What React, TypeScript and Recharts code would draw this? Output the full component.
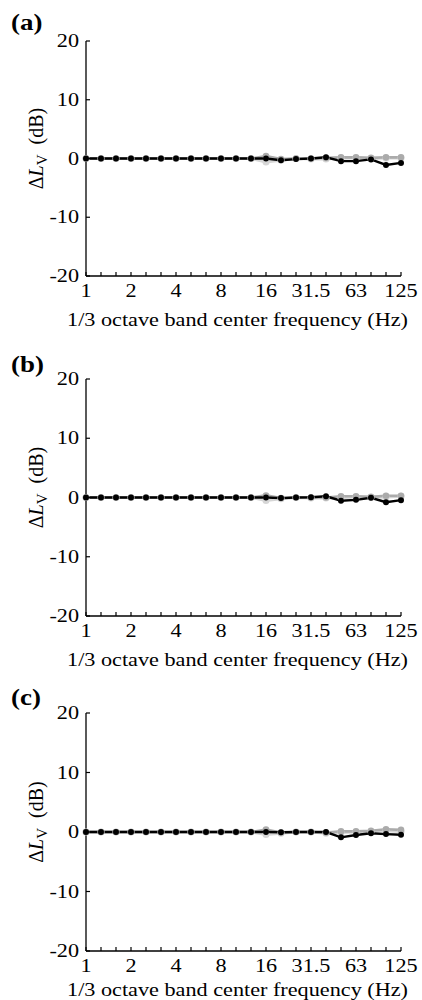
import { LineChart, Line, XAxis, YAxis } from "recharts";

const FREQS = ["1", "1.25", "1.6", "2", "2.5", "3.15", "4", "5", "6.3", "8", "10", "12.5", "16", "20", "25", "31.5", "40", "50", "63", "80", "100", "125"];
const FREQ_TICKS = ["1", "2", "4", "8", "16", "31.5", "63", "125"];
const Y_TICKS = [20, 10, 0, -10, -20];

// (a)
const A_BLACK = [0, 0, 0, 0, 0, 0, 0, 0, 0, 0, 0, 0, 0, -0.3, -0.1, 0, 0.2, -0.45, -0.45, -0.15, -1.1, -0.75];
const A_GRAY = [0, 0, 0, 0, 0, 0, 0, 0, 0, 0, 0, 0, 0.4, -0.1, 0, 0, 0.1, 0.2, 0.2, 0.1, 0.2, 0.2];
const A_LIGHT = [0, 0, 0, 0, 0, 0, 0, 0, 0, 0, 0, 0, -0.6, -0.3, 0, -0.1, -0.1, 0.1, 0.1, 0, 0.1, 0.1];
// (b)
const B_BLACK = [0, 0, 0, 0, 0, 0, 0, 0, 0, 0, 0, 0, 0, -0.1, 0, 0.05, 0.2, -0.55, -0.4, -0.05, -0.8, -0.45];
const B_GRAY = [0, 0, 0, 0, 0, 0, 0, 0, 0, 0, 0, 0, 0.35, -0.1, 0, 0, 0, 0.2, 0.2, 0.1, 0.3, 0.3];
const B_LIGHT = [0, 0, 0, 0, 0, 0, 0, 0, 0, 0, 0, 0, -0.5, -0.2, 0, -0.1, -0.1, 0, 0.1, 0, 0.1, 0.2];
// (c)
const C_BLACK = [0, 0, 0, 0, 0, 0, 0, 0, 0, 0, 0, 0, 0, -0.05, 0, 0, 0, -0.9, -0.5, -0.2, -0.35, -0.45];
const C_GRAY = [0, 0, 0, 0, 0, 0, 0, 0, 0, 0, 0, 0, 0.4, -0.1, 0, 0, -0.1, 0.1, 0.1, 0.2, 0.45, 0.35];
const C_LIGHT = [0, 0, 0, 0, 0, 0, 0, 0, 0, 0, 0, 0, -0.4, -0.2, 0, 0, -0.2, -0.1, 0, 0.1, 0.2, 0.1];

const FONT = "'Liberation Serif', 'Times New Roman', serif";
const FS = 19;
const SX = 1.17; // source text is a bit wider than it is tall
const TICK_LEN = 4;

const makeRows = (black: number[], gray: number[], light: number[]) =>
  FREQS.map((f, i) => ({ f, black: black[i], gray: gray[i], light: light[i] }));

const WideText = ({ x, y, anchor, children }: any) => (
  <g transform={`translate(${x},${y}) scale(${SX},1)`}>
    <text x={0} y={0} textAnchor={anchor} fontFamily={FONT} fontSize={FS} fill="#000">
      {children}
    </text>
  </g>
);

const BottomTick = (props: any) => {
  const { x, y, payload } = props;
  const show = FREQ_TICKS.includes(payload.value);
  return (
    <g>
      <line x1={x} y1={y} x2={x} y2={y - TICK_LEN} stroke="#000" strokeWidth={1.2} />
      {show && (
        <WideText x={x} y={y + 21} anchor="middle">
          {payload.value}
        </WideText>
      )}
    </g>
  );
};

const TopTick = (props: any) => {
  const { x, y } = props;
  return <line x1={x} y1={y} x2={x} y2={y + TICK_LEN} stroke="#000" strokeWidth={1.2} />;
};

const LeftTick = (props: any) => {
  const { x, y, payload } = props;
  return (
    <g>
      <line x1={x} y1={y} x2={x + TICK_LEN} y2={y} stroke="#000" strokeWidth={1.2} />
      <WideText x={x - 7} y={y + 6} anchor="end">
        {payload.value}
      </WideText>
    </g>
  );
};

const RightTick = (props: any) => {
  const { x, y } = props;
  return <line x1={x} y1={y} x2={x - TICK_LEN} y2={y} stroke="#000" strokeWidth={1.2} />;
};

const XTitle = ({ viewBox, gap }: any) => (
  <WideText x={viewBox.x + viewBox.width / 2 - 6} y={viewBox.y + gap} anchor="middle">
    1/3 octave band center frequency (Hz)
  </WideText>
);

const YTitle = (props: any) => {
  const vb = props.viewBox;
  const cx = 43;
  const cy = vb.y + vb.height / 2 - 10;
  return (
    <text
      x={cx}
      y={cy}
      transform={`rotate(-90 ${cx} ${cy})`}
      textAnchor="middle"
      fontFamily={FONT}
      fontSize={20}
      fill="#000"
    >
      Δ<tspan fontStyle="italic">L</tspan>
      <tspan fontSize={15} dy={4}>V</tspan>
      <tspan dy={-4}>{"\u2002(dB)"}</tspan>
    </text>
  );
};

type PanelProps = {
  tag: string;
  black: number[];
  gray: number[];
  light: number[];
  height: number;
  top: number;
  bottom: number;
  tagTop: number;
  titleGap: number;
};

function Panel({ tag, black, gray, light, height, top, bottom, tagTop, titleGap }: PanelProps) {
  const rows = makeRows(black, gray, light);
  return (
    <div style={{ position: "relative", width: 422, height }}>
      <div
        style={{
          position: "absolute",
          left: 11,
          top: tagTop,
          fontFamily: FONT,
          fontWeight: "bold",
          fontSize: 23,
          lineHeight: "23px",
          transform: `scaleX(${SX})`,
          transformOrigin: "left top",
        }}
      >
        ({tag})
      </div>
      <LineChart width={422} height={height} data={rows} margin={{ top, right: 21, left: 0, bottom }}>
        <XAxis
          dataKey="f"
          scale="point"
          padding={{ left: 0, right: 0 }}
          interval={0}
          height={44}
          axisLine={{ stroke: "#000", strokeWidth: 1.3 }}
          tickLine={false}
          tickSize={0}
          tickMargin={0}
          tick={BottomTick}
          label={(p: any) => <XTitle {...p} gap={titleGap} />}
        />
        <XAxis
          xAxisId="top"
          orientation="top"
          dataKey="f"
          scale="point"
          padding={{ left: 0, right: 0 }}
          interval={0}
          height={0}
          axisLine={{ stroke: "#000", strokeWidth: 1.3 }}
          tickLine={false}
          tickSize={0}
          tickMargin={0}
          tick={TopTick}
        />
        <YAxis
          type="number"
          domain={[-20, 20]}
          ticks={Y_TICKS}
          interval={0}
          width={86}
          axisLine={{ stroke: "#000", strokeWidth: 1.3 }}
          tickLine={false}
          tickSize={0}
          tickMargin={0}
          tick={LeftTick}
          label={YTitle}
        />
        <YAxis
          yAxisId="right"
          orientation="right"
          type="number"
          domain={[-20, 20]}
          ticks={Y_TICKS}
          interval={0}
          width={0}
          axisLine={{ stroke: "#000", strokeWidth: 1.3 }}
          tickLine={false}
          tickSize={0}
          tickMargin={0}
          tick={RightTick}
        />
        <Line
          dataKey="light"
          stroke="#d6d6d6"
          strokeWidth={3}
          dot={{ r: 2, fill: "#d6d6d6", stroke: "#d6d6d6" }}
          isAnimationActive={false}
        />
        <Line
          dataKey="gray"
          stroke="#ababab"
          strokeWidth={2.6}
          dot={{ r: 2, fill: "#ababab", stroke: "#ababab" }}
          isAnimationActive={false}
        />
        <Line
          dataKey="black"
          stroke="#000"
          strokeWidth={2.4}
          dot={{ r: 1.8, fill: "#000", stroke: "#000" }}
          isAnimationActive={false}
        />
      </LineChart>
    </div>
  );
}

export default function App() {
  return (
    <div style={{ position: "absolute", left: 0, top: 0, width: 422, height: 1000, background: "#fff" }}>
      <Panel tag="a" black={A_BLACK} gray={A_GRAY} light={A_LIGHT} height={336} top={41} bottom={16} tagTop={11} titleGap={50} />
      <Panel tag="b" black={B_BLACK} gray={B_GRAY} light={B_LIGHT} height={336} top={43} bottom={12} tagTop={17} titleGap={50} />
      <Panel tag="c" black={C_BLACK} gray={C_GRAY} light={C_LIGHT} height={328} top={41} bottom={5} tagTop={14} titleGap={45} />
    </div>
  );
}
